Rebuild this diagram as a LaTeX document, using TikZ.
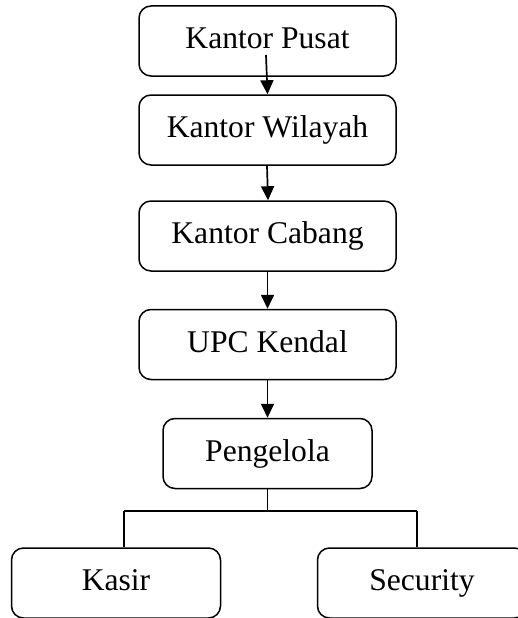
\documentclass[tikz,border=0pt]{standalone}
\usepackage{fontspec}
\setmainfont{Liberation Serif}
\usetikzlibrary{arrows.meta}
\begin{document}
\begin{tikzpicture}[x=1pt,y=-1pt,
 box/.style={draw,line width=1.5pt,rounded corners=12pt,minimum height=70pt,inner sep=0pt,
   text height=22pt,text depth=7pt,font=\fontsize{31.6}{38}\selectfont},
 wide/.style={box,minimum width=257pt},
 mid/.style={box,minimum width=209pt},
 arr/.style={line width=1.7pt,-{Triangle[width=13pt,length=14pt]}},
 ln/.style={line width=1.4pt}]
\useasboundingbox (0,0) rectangle (518,618);
\node[wide] (pusat) at (267.5,41) {Kantor Pusat};
\node[wide] (wilayah) at (267.5,130) {Kantor Wilayah};
\node[wide] (cabang) at (267.5,236) {Kantor Cabang};
\node[wide] (upc) at (267.5,344.5) {UPC Kendal};
\node[mid] (pengelola) at (267.5,453.5) {Pengelola};
\node[mid] (kasir) at (116,583) {Kasir};
\node[mid] (security) at (422,583) {Security};
\draw[arr] ([shift={(-1.5,14)}]pusat.center) -- (wilayah.north);
\draw[arr] ([xshift=-0.5pt]wilayah.south) -- ([xshift=0.5pt]cabang.north);
\draw[arr] (cabang.south) -- (upc.north);
\draw[arr] (upc.south) -- (pengelola.north);
\coordinate (j) at (267.5,511);
\coordinate (jl) at (124,511);
\coordinate (jr) at (417,511);
\draw[ln] (pengelola.south) -- (j);
\draw[ln] (jl) -- (jr);
\draw[ln] (jl) -- (jl |- kasir.north);
\draw[ln] (jr) -- (jr |- security.north);
\end{tikzpicture}
\end{document}
